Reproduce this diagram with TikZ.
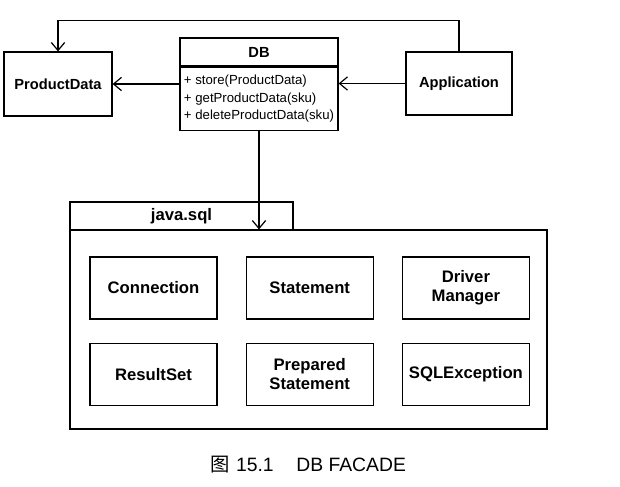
\documentclass[tikz,border=0pt]{standalone}
\usepackage{fontspec}
\setmainfont{Liberation Sans}
\newfontfamily\cjk{Noto Sans CJK SC}
\usetikzlibrary{positioning, arrows.meta}

\tikzset{
	cls/.style={draw, line width=0.9pt, font=\bfseries\fontsize{11}{13}\selectfont, inner sep=0pt},
	sqlcls/.style={draw, line width=0.9pt, font=\bfseries\fontsize{12.5}{14}\selectfont, align=center,
		minimum width=95.25pt, minimum height=46.5pt, inner sep=0pt},
	arr/.style={line width=0.9pt, -{Straight Barb[length=6pt, width=10pt, line width=0.9pt]}}
}

\begin{document}
\begin{tikzpicture}[x=0.75pt, y=-0.75pt]
	\useasboundingbox (0,0) rectangle (620,486);

	\node[cls, minimum width=81pt, minimum height=48pt] (ProductData) at (58,84) {ProductData};
	\node[cls, minimum width=118.5pt, minimum height=21pt] (DBhead) at (259,52) {DB};
	\node[draw, line width=0.9pt, minimum width=118.5pt, minimum height=47.25pt, inner sep=0pt,
		below=0pt of DBhead, font=\fontsize{9.9}{13}\selectfont, align=left] (DBbody)
		{+ store(ProductData)\\+ getProductData(sku)\\+ deleteProductData(sku)};
	\node[cls, minimum width=79.5pt, minimum height=47.25pt] (Application) at (459,83.5) {Application};

	\node[cls, font=\bfseries\fontsize{12.5}{14}\selectfont, minimum width=167.25pt, minimum height=21pt] (pkgtab) at (181.5,216) {java.sql};
	\node[draw, line width=0.9pt, minimum width=357.75pt, minimum height=149.25pt, inner sep=0pt] (pkg) at (308.5,329.5) {};

	\node[sqlcls] (Connection) at (153.5,288) {Connection};
	\node[sqlcls, right=21pt of Connection] (Statement) {Statement};
	\node[sqlcls, right=21pt of Statement] (DriverManager) {Driver\\Manager};
	\node[sqlcls, below=17.25pt of Connection] (ResultSet) {ResultSet};
	\node[sqlcls, right=21pt of ResultSet] (PreparedStatement) {Prepared\\Statement};
	\node[sqlcls, right=21pt of PreparedStatement] (SQLException) {SQLException};

	\node (caption) at (308,465) {\fontsize{14.5}{16}\selectfont{\cjk 图}\hspace{5pt}15.1\hspace{17pt}DB FACADE};

	\draw[arr] (Application.north) -- ++(0,-31) -| (ProductData.north);
	\draw[arr] (DBbody.west |- ProductData.east) -- (ProductData.east);
	\draw[arr] (Application.west) -- (Application.west -| DBbody.east);
	\draw[arr] (DBbody.south) -- (DBbody.south |- pkg.north);
\end{tikzpicture}
\end{document}
